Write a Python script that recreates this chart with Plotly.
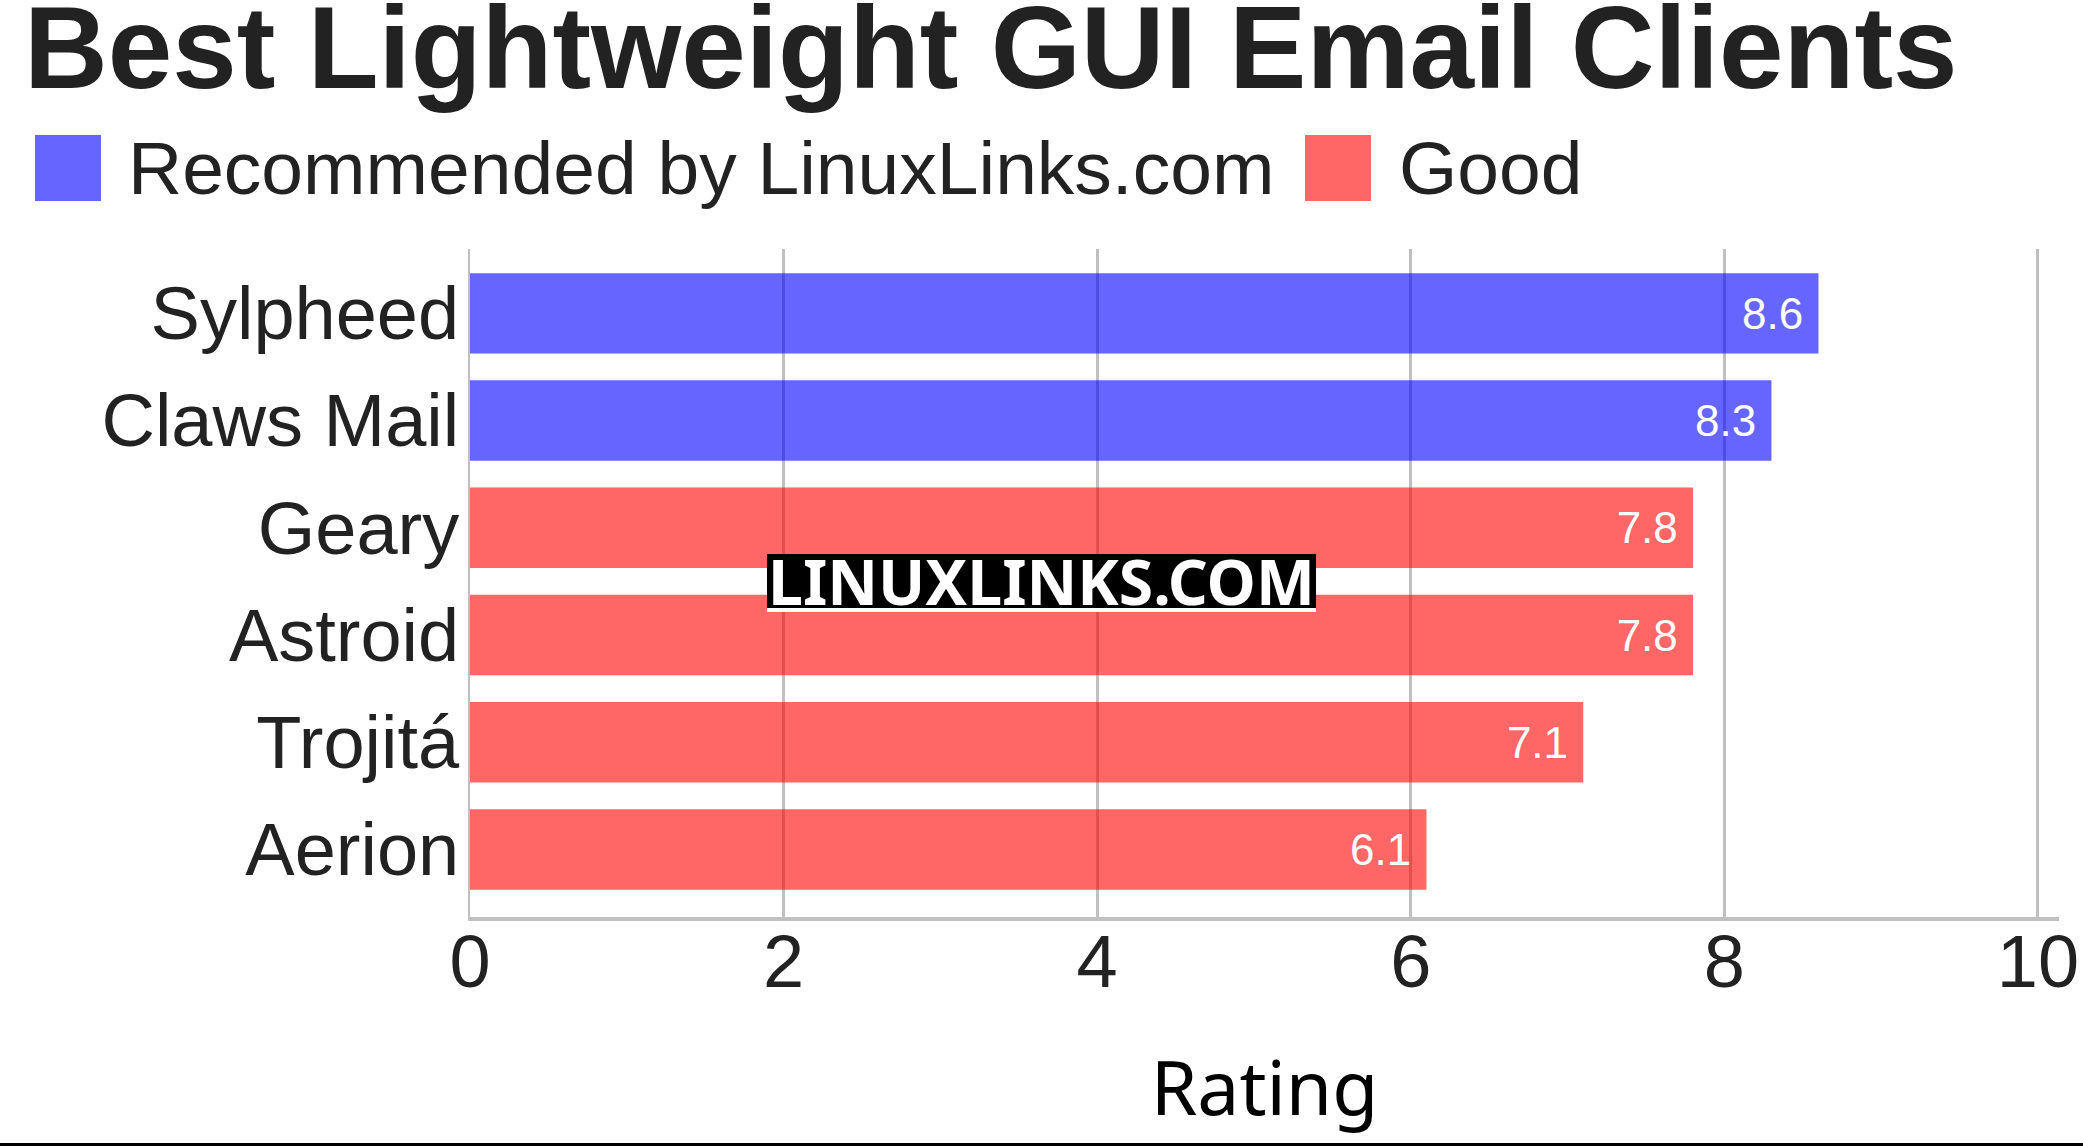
"""Best lightweight GUI email clients - horizontal bar chart."""
import plotly.graph_objects as go

clients = ["Sylpheed", "Claws Mail", "Geary", "Astroid", "Trojitá", "Aerion"]
ratings = [8.6, 8.3, 7.8, 7.8, 7.1, 6.1]
groups = ["Recommended by LinuxLinks.com", "Recommended by LinuxLinks.com",
          "Good", "Good", "Good", "Good"]
group_names = ["Recommended by LinuxLinks.com", "Good"]
x_ticks = [0, 2, 4, 6, 8, 10]

colors = {"Recommended by LinuxLinks.com": "rgba(0,0,255,0.6)",
          "Good": "rgba(255,0,0,0.6)"}

W, H = 2083, 1146
L, R, T, B = 470, 24, 249, 229
PW, PH = W - L - R, H - T - B


def px(x):
    return (x - L) / PW


def py(y):
    return (H - B - y) / PH


fig = go.Figure()
for g in group_names:
    ys = [c for c, gg in zip(clients, groups) if gg == g]
    xs = [v for v, gg in zip(ratings, groups) if gg == g]
    fig.add_trace(go.Bar(
        x=xs, y=ys, orientation="h", name=g,
        marker=dict(color=colors[g], line=dict(width=0)),
        texttemplate="%{x}\u00a0", textposition="inside",
        insidetextanchor="end",
        textfont=dict(family="Liberation Sans", size=44, color="white"),
        showlegend=False,
    ))

# manual legend with large swatches
legend_items = [(35, 126, group_names[0]), (1305, 1397, group_names[1])]
shapes = []
annotations = []
for sx, tx, name in legend_items:
    shapes.append(dict(type="rect", xref="paper", yref="paper",
                       x0=px(sx), x1=px(sx + 66), y0=py(201), y1=py(135),
                       fillcolor=colors[name], line=dict(width=0)))
    annotations.append(dict(text=name, xref="paper", yref="paper",
                            x=px(tx), y=py(168), xanchor="left", yanchor="middle",
                            showarrow=False,
                            font=dict(family="Liberation Sans", size=75, color="#222222")))

# title
annotations.append(dict(text="<b>Best Lightweight GUI Email Clients</b>",
                        xref="paper", yref="paper", x=px(22), y=py(48),
                        xanchor="left", yanchor="middle", showarrow=False,
                        font=dict(family="Liberation Sans", size=116, color="#222222")))

# watermark
shapes.append(dict(type="rect", xref="paper", yref="paper",
                   x0=px(767), x1=px(1316), y0=py(608), y1=py(554),
                   fillcolor="black", line=dict(width=0), layer="above"))
shapes.append(dict(type="rect", xref="paper", yref="paper",
                   x0=px(767), x1=px(1316), y0=py(612), y1=py(608),
                   fillcolor="white", line=dict(width=0), layer="above"))
annotations.append(dict(text="<b>LINUXLINKS.COM</b>", xref="paper", yref="paper",
                        x=px(1041), y=py(580), xanchor="center", yanchor="middle",
                        showarrow=False,
                        font=dict(family="Noto Sans", size=62.5, color="white")))

# bottom rule
shapes.append(dict(type="line", xref="paper", yref="paper",
                   x0=px(0), x1=px(W), y0=py(1144.5), y1=py(1144.5),
                   line=dict(color="black", width=3)))

fig.update_layout(
    width=W, height=H,
    margin=dict(l=L, r=R, t=T, b=B, pad=0),
    plot_bgcolor="white", paper_bgcolor="white",
    barmode="overlay", bargap=0.25,
    shapes=shapes, annotations=annotations,
    xaxis=dict(range=[0, 10.134], tickvals=x_ticks, showgrid=True,
               gridcolor="#c0c0c0", gridwidth=3, zeroline=False,
               showline=True, linecolor="#c0c0c0", linewidth=4,
               automargin=False, ticklabeloverflow="allow",
               tickfont=dict(family="Liberation Sans", size=74, color="#222222"),
               ticklabelstandoff=-23,
               title=dict(text="Rating", standoff=62,
                          font=dict(family="Noto Sans", size=75, color="black"))),
    yaxis=dict(categoryorder="array", categoryarray=clients,
               range=[5.63, -0.60], showgrid=False, zeroline=False,
               showline=True, linecolor="#c0c0c0", linewidth=2,
               automargin=False, ticklabelstandoff=-6,
               tickfont=dict(family="Liberation Sans", size=74, color="#222222")),
)

fig.write_html("out.html", config={"displayModeBar": False},
               post_script="document.body.style.margin='0';document.body.style.overflow='hidden';")
